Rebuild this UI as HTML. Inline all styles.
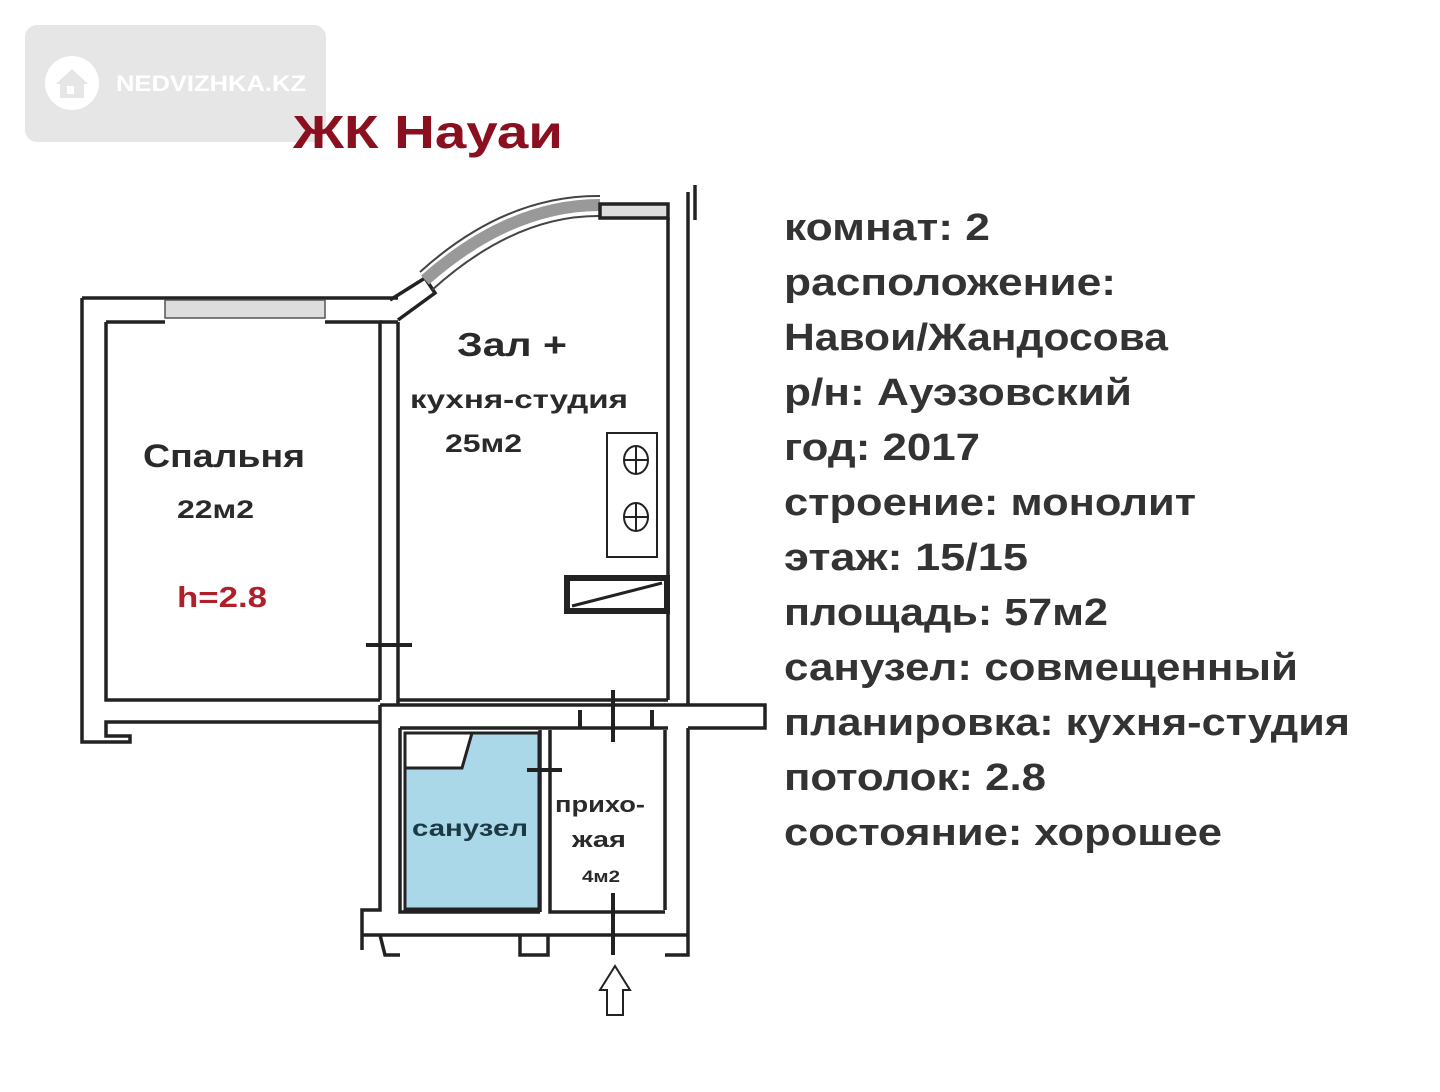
<!DOCTYPE html>
<html><head><meta charset="utf-8"><style>
html,body{margin:0;padding:0;background:#fff;}
svg{display:block;}
text{font-family:"Liberation Sans",sans-serif;font-weight:bold;}
</style></head><body>
<svg width="1440" height="1092" viewBox="0 0 1440 1092" xmlns="http://www.w3.org/2000/svg">
<rect width="1440" height="1092" fill="#fff"/>
<!-- logo -->
<rect x="25" y="25" width="301" height="117" rx="12" fill="#e6e6e6"/>
<circle cx="72" cy="83" r="27" fill="#fff"/>
<path d="M56 84 L72 69 L88 84 L84 84 L84 98 L60 98 L60 84 Z" fill="#e6e6e6"/>
<rect x="67" y="86" width="7" height="8" fill="#fff"/>
<text x="116" y="91" font-size="22" fill="#fff" textLength="190" lengthAdjust="spacingAndGlyphs">NEDVIZHKA.KZ</text>
<!-- title -->
<text x="293" y="148" font-size="46" fill="#8a1020" textLength="270" lengthAdjust="spacingAndGlyphs">ЖК Науаи</text>

<g stroke="#222" stroke-width="3.5" fill="#f2f2f2">
<path d="M82 298 L380 298 L398 298 M82 298 L82 742 L130 742 L130 736 L106 736 L106 722 L380 722 M106 322 L106 700 L380 700 M106 322 L165 322 M325 322 L380 322 L380 700" fill="none"/>
<rect x="165" y="300" width="160" height="18" fill="#ddd" stroke="#555" stroke-width="1.5"/>
<path d="M398 322 L398 700 L668 700 M380 322 L398 322" fill="none"/>
<path d="M398 320 L435 293 L425 278 L390 300" fill="none"/>
<path d="M425 280 Q 510 205 600 205" fill="none" stroke="#999" stroke-width="12"/>
<path d="M420 272 Q 505 195 600 196 M432 290 Q 515 215 600 216" fill="none" stroke="#444" stroke-width="2"/>
<rect x="600" y="204" width="68" height="14" fill="#ddd"/>
<path d="M668 218 L668 700 M688 192 L688 705 M695 185 L695 220" fill="none"/>
<path d="M380 705 L765 705 L765 728 L688 728 M398 705 L398 700 M668 728 L550 728 L400 728" fill="none"/>
<path d="M688 728 L688 955 L665 955 M665 910 L665 730" fill="none"/>
<path d="M380 705 L380 910 L362 910 L362 950 M380 935 L385 955 L400 955 M400 728 L400 912 L540 912 M540 730 L540 912 M550 730 L550 912 L665 912 M362 935 L688 935 M520 935 L520 955 L548 955 L548 935" fill="none"/>
</g>
<rect x="405" y="733" width="134" height="176" fill="#aad8e8" stroke="#222" stroke-width="3"/>
<path d="M405 733 L472 733 L462 768 L405 768 Z" fill="#fff" stroke="#222" stroke-width="3"/>
<g stroke="#222" stroke-width="4">
<line x1="366" y1="645" x2="412" y2="645"/>
<line x1="613" y1="690" x2="613" y2="742"/>
<line x1="580" y1="710" x2="580" y2="728"/><line x1="652" y1="710" x2="652" y2="728"/>
<line x1="527" y1="770" x2="562" y2="770"/>
<line x1="613" y1="893" x2="613" y2="955"/>
</g>
<path d="M615 966 L600 990 L607 990 L607 1015 L623 1015 L623 990 L630 990 Z" fill="#fff" stroke="#222" stroke-width="2"/>
<rect x="607" y="433" width="50" height="124" fill="#fff" stroke="#222" stroke-width="2"/>
<g fill="none" stroke="#222" stroke-width="2">
<ellipse cx="636" cy="460" rx="12" ry="14"/><line x1="624" y1="460" x2="648" y2="460"/><line x1="636" y1="446" x2="636" y2="474"/>
<ellipse cx="636" cy="517" rx="12" ry="14"/><line x1="624" y1="517" x2="648" y2="517"/><line x1="636" y1="503" x2="636" y2="531"/>
</g>
<rect x="567" y="578" width="100" height="33" fill="#fff" stroke="#222" stroke-width="6"/>
<line x1="572" y1="606" x2="662" y2="583" stroke="#222" stroke-width="3"/>
<g fill="#2a2a2a">
<text x="457" y="356" font-size="33" textLength="110" lengthAdjust="spacingAndGlyphs">Зал +</text>
<text x="410" y="408" font-size="26" textLength="218" lengthAdjust="spacingAndGlyphs">кухня-студия</text>
<text x="445" y="452" font-size="25" textLength="77" lengthAdjust="spacingAndGlyphs">25м2</text>
<text x="143" y="467" font-size="32" textLength="162" lengthAdjust="spacingAndGlyphs">Спальня</text>
<text x="177" y="518" font-size="25" textLength="77" lengthAdjust="spacingAndGlyphs">22м2</text>
<text x="555" y="812" font-size="22" textLength="90" lengthAdjust="spacingAndGlyphs">прихо-</text>
<text x="572" y="847" font-size="22" textLength="54" lengthAdjust="spacingAndGlyphs">жая</text>
<text x="582" y="882" font-size="17" textLength="38" lengthAdjust="spacingAndGlyphs">4м2</text>
</g>
<text x="177" y="607" font-size="29" fill="#b0202a" textLength="90" lengthAdjust="spacingAndGlyphs">h=2.8</text>
<text x="412" y="836" font-size="23" fill="#1c3a45" textLength="116" lengthAdjust="spacingAndGlyphs">санузел</text>
<g fill="#333" font-size="38">
<text x="784" y="240" textLength="206" lengthAdjust="spacingAndGlyphs">комнат: 2</text>
<text x="784" y="295" textLength="332" lengthAdjust="spacingAndGlyphs">расположение:</text>
<text x="784" y="350" textLength="384" lengthAdjust="spacingAndGlyphs">Навои/Жандосова</text>
<text x="784" y="405" textLength="348" lengthAdjust="spacingAndGlyphs">р/н: Ауэзовский</text>
<text x="784" y="460" textLength="196" lengthAdjust="spacingAndGlyphs">год: 2017</text>
<text x="784" y="515" textLength="412" lengthAdjust="spacingAndGlyphs">строение: монолит</text>
<text x="784" y="570" textLength="244" lengthAdjust="spacingAndGlyphs">этаж: 15/15</text>
<text x="784" y="625" textLength="324" lengthAdjust="spacingAndGlyphs">площадь: 57м2</text>
<text x="784" y="680" textLength="514" lengthAdjust="spacingAndGlyphs">санузел: совмещенный</text>
<text x="784" y="735" textLength="566" lengthAdjust="spacingAndGlyphs">планировка: кухня-студия</text>
<text x="784" y="790" textLength="262" lengthAdjust="spacingAndGlyphs">потолок: 2.8</text>
<text x="784" y="845" textLength="438" lengthAdjust="spacingAndGlyphs">состояние: хорошее</text>
</g>
</svg>
</body></html>
